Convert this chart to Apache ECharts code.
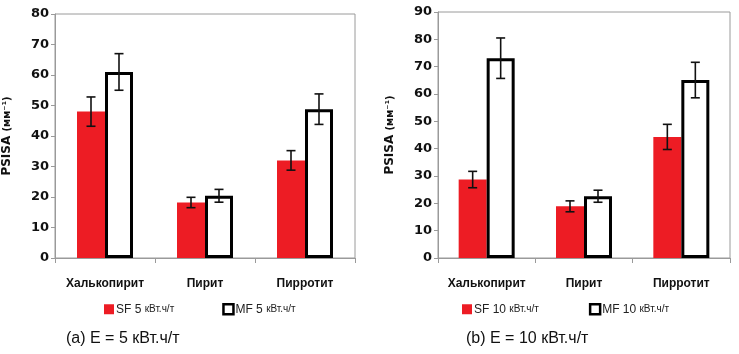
<!DOCTYPE html>
<html>
<head>
<meta charset="utf-8">
<script src="https://cdn.jsdelivr.net/npm/echarts@6/dist/echarts.min.js"></script>
<style>
  html, body { margin: 0; padding: 0; background: #fff; }
  #chart { width: 739px; height: 354px; }
</style>
</head>
<body>
<div id="chart"></div>
<script>
// данные
var categories = ['Халькопирит', 'Пирит', 'Пирротит'];
var sf5 = [48, 18.2, 32];
var sf5Err = [4.8, 1.7, 3.2];
var mf5 = [61, 20.4, 48.8];
var mf5Err = [6, 2.1, 5];
var sf10 = [28.7, 18.9, 44.3];
var sf10Err = [3, 2, 4.6];
var mf10 = [73.1, 22.6, 65.1];
var mf10Err = [7.4, 2.2, 6.5];
var yMax = [80, 90];

var BAR_W = 28;
var RED = '#ed1c24';
var GREY = '#9a9a9a';

var myChart = echarts.init(document.getElementById('chart'));

function errData(vals, errs) {
  return vals.map(function (v, i) { return [i, v, errs[i]]; });
}

function errSeries(name, idx, vals, errs, side) {
  return {
    name: name,
    type: 'custom',
    xAxisIndex: idx,
    yAxisIndex: idx,
    z: 5,
    data: errData(vals, errs),
    renderItem: function (params, api) {
      var hi = api.coord([api.value(0), api.value(1) + api.value(2)]);
      var lo = api.coord([api.value(0), api.value(1) - api.value(2)]);
      var x = hi[0] + side * BAR_W / 2;
      var cap = 4.5;
      var st = { stroke: '#111', lineWidth: 1.6 };
      return {
        type: 'group',
        children: [
          { type: 'line', shape: { x1: x, y1: hi[1], x2: x, y2: lo[1] }, style: st },
          { type: 'line', shape: { x1: x - cap, y1: hi[1], x2: x + cap, y2: hi[1] }, style: st },
          { type: 'line', shape: { x1: x - cap, y1: lo[1], x2: x + cap, y2: lo[1] }, style: st }
        ]
      };
    }
  };
}

function xAxisOf(idx) {
  return {
    type: 'category',
    gridIndex: idx,
    data: categories,
    axisLine: { lineStyle: { color: GREY, width: 1 } },
    axisTick: { show: true, length: 5, lineStyle: { color: GREY } },
    axisLabel: {
      interval: 0,
      color: '#111',
      fontFamily: 'Liberation Sans',
      fontWeight: 'bold',
      fontSize: 12,
      margin: 20
    }
  };
}

function yAxisOf(idx) {
  return {
    type: 'value',
    gridIndex: idx,
    min: 0,
    max: yMax[idx],
    interval: 10,
    name: '{a|PSISA }{b|(мм⁻¹)}',
    nameLocation: 'middle',
    nameGap: 42,
    nameRotate: 90,
    nameTextStyle: {
      rich: {
        a: { fontFamily: 'DejaVu Sans', fontWeight: 'bold', fontSize: 12, color: '#111' },
        b: { fontFamily: 'DejaVu Sans', fontWeight: 'bold', fontSize: 10, color: '#111' }
      }
    },
    splitLine: { show: false },
    axisLine: { show: true, lineStyle: { color: GREY, width: 1 } },
    axisTick: { show: true, length: 4, lineStyle: { color: GREY } },
    axisLabel: {
      color: '#111',
      fontFamily: 'DejaVu Sans',
      fontWeight: 'bold',
      fontSize: 13,
      margin: 6
    }
  };
}

function legendOf(left, names, gap) {
  return {
    left: left,
    top: 303,
    padding: 0,
    itemWidth: 10,
    itemHeight: 10,
    itemGap: gap,
    selectedMode: false,
    textStyle: {
      fontFamily: 'Liberation Sans',
      fontSize: 11,
      color: '#222',
      padding: [0, 0, 0, -3],
      rich: {
        s: { fontFamily: 'Liberation Sans', fontSize: 12, color: '#222' },
        u: { fontFamily: 'Liberation Sans', fontSize: 10, color: '#222' }
      }
    },
    formatter: function (n) {
      var parts = n.split(' ');
      return '{s|' + parts[0] + ' ' + parts[1] + ' }{u|' + parts.slice(2).join(' ') + '}';
    },
    data: [
      { name: names[0], icon: 'rect', itemStyle: { color: RED, borderWidth: 0 } },
      { name: names[1], icon: 'rect', itemStyle: { color: '#fff', borderColor: '#000', borderWidth: 2.5 } }
    ]
  };
}

function barSeries(name, idx, vals, isMF) {
  return {
    name: name,
    type: 'bar',
    xAxisIndex: idx,
    yAxisIndex: idx,
    barWidth: BAR_W,
    barGap: '0%',
    data: vals,
    itemStyle: isMF
      ? { color: '#fff', borderColor: '#000', borderWidth: 3 }
      : { color: RED }
  };
}

myChart.setOption({
  animation: false,
  backgroundColor: '#fff',
  grid: [
    { left: 54, top: 14, width: 301, height: 244, show: true, borderColor: GREY, borderWidth: 1 },
    { left: 438, top: 12, width: 292, height: 246, show: true, borderColor: GREY, borderWidth: 1 }
  ],
  xAxis: [xAxisOf(0), xAxisOf(1)],
  yAxis: [yAxisOf(0), yAxisOf(1)],
  legend: [
    legendOf(104, ['SF 5 кВт.ч/т', 'MF 5 кВт.ч/т'], 48),
    legendOf(462, ['SF 10 кВт.ч/т', 'MF 10 кВт.ч/т'], 50)
  ],
  graphic: [
    {
      type: 'text', left: 66, top: 331,
      style: { text: '(a) E = 5 кВт.ч/т', fontFamily: 'Liberation Sans', fontSize: 16, fill: '#111' }
    },
    {
      type: 'text', left: 466, top: 331,
      style: { text: '(b) E = 10 кВт.ч/т', fontFamily: 'Liberation Sans', fontSize: 16, fill: '#111' }
    }
  ],
  series: [
    barSeries('SF 5 кВт.ч/т', 0, sf5, false),
    barSeries('MF 5 кВт.ч/т', 0, mf5, true),
    barSeries('SF 10 кВт.ч/т', 1, sf10, false),
    barSeries('MF 10 кВт.ч/т', 1, mf10, true),
    errSeries('errSF5', 0, sf5, sf5Err, -1),
    errSeries('errMF5', 0, mf5, mf5Err, 1),
    errSeries('errSF10', 1, sf10, sf10Err, -1),
    errSeries('errMF10', 1, mf10, mf10Err, 1)
  ]
});

window.addEventListener('resize', function () {
  myChart.resize();
});
</script>
</body>
</html>
